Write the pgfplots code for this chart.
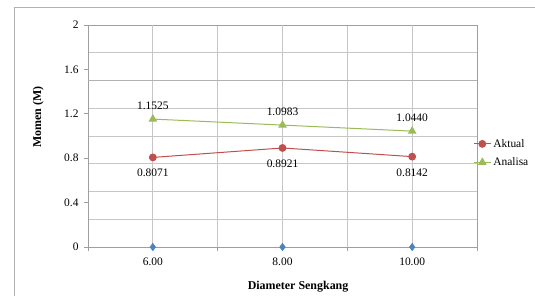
\documentclass[border=0pt]{standalone}
\usepackage{fontspec}
\setmainfont{Liberation Serif}
\usepackage{pgfplots}
\pgfplotsset{compat=1.18}
\definecolor{cRed}{HTML}{C0504D}
\definecolor{cGreen}{HTML}{9BBB59}
\definecolor{cBlue}{HTML}{4F81BD}
\begin{document}
\begin{tikzpicture}[x=1bp,y=1bp]
\useasboundingbox (0,0) rectangle (535,295);
\draw[gray!60, line width=1bp] (14,-10) -- (14,287) -- (545,287);
\begin{axis}[
  at={(88bp,48bp)}, anchor=south west,
  scale only axis, width=389bp, height=222bp,
  xmin=0.5, xmax=3.5, ymin=0, ymax=2,
  axis line style={gray!75, line width=0.8bp},
  /pgf/number format/assume math mode=true,
  xtick pos=bottom, ytick pos=left,
  xtick={0.5,1.5,2.5,3.5}, xticklabels={},
  xmajorgrids=true,
  extra x ticks={1,2,3},
  extra x tick labels={6.00,8.00,10.00},
  extra x tick style={major tick length=0pt, grid=major},
  ytick={0,0.4,0.8,1.2,1.6,2},
  minor ytick={0.25,0.5,0.75,1,1.25,1.5,1.75},
  yminorgrids=true, ymajorgrids=false,
  minor tick length=0pt,
  tick align=outside, major tick length=4bp,
  tick style={gray!75, line width=0.8bp},
  grid style={gray!45, line width=0.8bp},
  minor grid style={gray!45, line width=0.8bp},
  tick label style={font=\fontsize{11.5}{13}\selectfont, black},
  xticklabel style={yshift=-7bp},
  yticklabel style={xshift=-2bp},
  xlabel={Diameter Sengkang},
  ylabel={Momen (M)},
  label style={font=\fontsize{12}{14}\selectfont\bfseries},
  xlabel style={at={(axis description cs:0.54,-0.18)}, anchor=center},
  ylabel style={at={(axis description cs:-0.128,0.585)}, anchor=center},
  legend style={at={(axis description cs:0.99,0.423)}, anchor=west,
    draw=none, fill=none, font=\fontsize{11.5}{13}\selectfont,
    row sep=5bp, inner xsep=0pt},
  legend cell align=left,
]
\draw[gray!60, line width=1.8bp] (axis cs:0.5,1.5) -- (axis cs:3.5,1.5);
\addplot[only marks, mark=diamond*, mark size=3.8bp, color=cBlue, forget plot]
  coordinates {(1,0) (2,0) (3,0)};
\addplot[color=cRed, line width=1bp, mark=*, mark size=3.4bp,
  nodes near coords={\pgfmathprintnumber[fixed,fixed zerofill,precision=4]{\pgfplotspointmeta}},
  every node near coord/.append style={anchor=north, yshift=-8bp, black, font=\fontsize{11.5}{13}\selectfont}]
  coordinates {(1,0.8071) (2,0.8921) (3,0.8142)};
\addlegendentry{Aktual}
\addplot[color=cGreen, line width=1bp, mark=triangle*, mark size=4bp,
  nodes near coords={\pgfmathprintnumber[fixed,fixed zerofill,precision=4]{\pgfplotspointmeta}},
  every node near coord/.append style={anchor=south, yshift=6bp, black, font=\fontsize{11.5}{13}\selectfont}]
  coordinates {(1,1.1525) (2,1.0983) (3,1.0440)};
\addlegendentry{Analisa}
\end{axis}
\end{tikzpicture}
\end{document}
